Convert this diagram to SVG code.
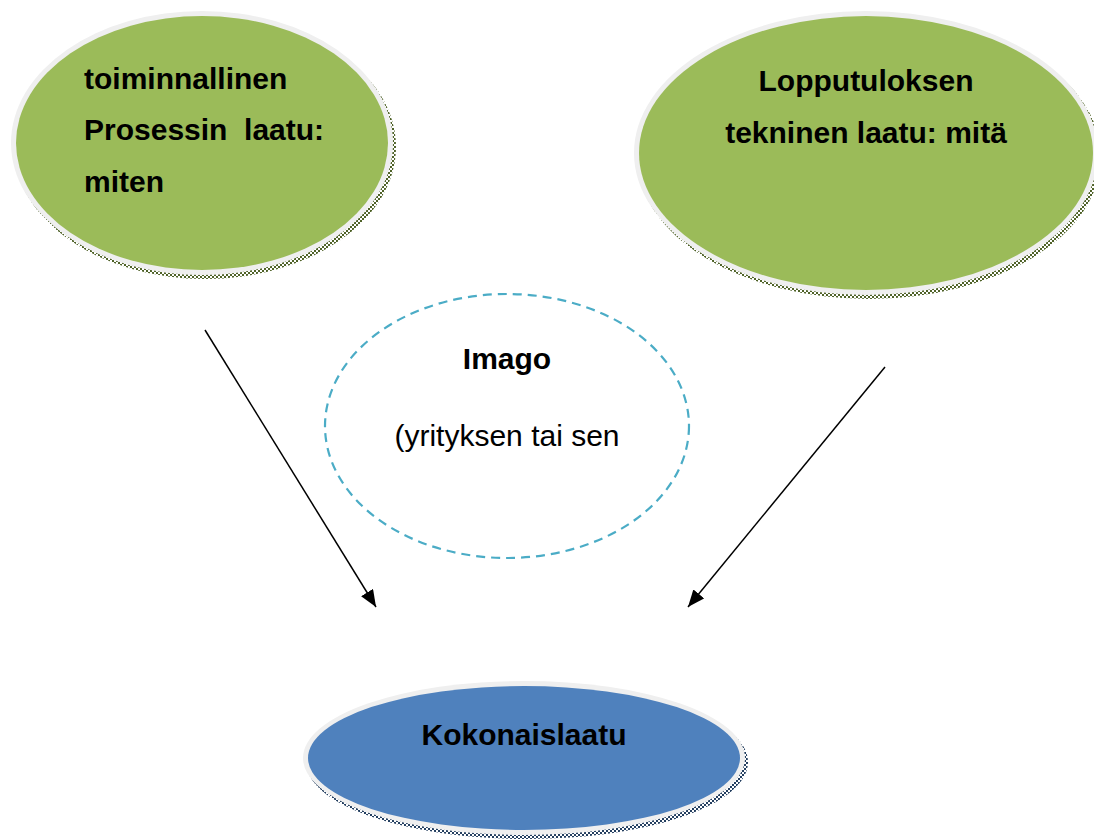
<svg xmlns="http://www.w3.org/2000/svg" width="1094" height="839" viewBox="0 0 1094 839">
<style>
.t{font-family:"Liberation Sans",Arial,sans-serif;font-size:30px;fill:#000}
.b{font-weight:bold}
.rim{fill:#efefef}
.green{fill:#9bbb59}
.blue{fill:#4f81bd}
.conn{stroke:#000;stroke-width:1.5;fill:none}
</style>
<defs>
<pattern id="chkG" patternUnits="userSpaceOnUse" width="4" height="4">
<rect x="0" y="0" width="2" height="2" fill="#4f6228"/>
<rect x="2" y="2" width="2" height="2" fill="#4f6228"/>
</pattern>
<pattern id="chkB" patternUnits="userSpaceOnUse" width="4" height="4">
<rect x="0" y="0" width="2" height="2" fill="#243f60"/>
<rect x="2" y="2" width="2" height="2" fill="#243f60"/>
</pattern>
<marker id="arr" markerUnits="userSpaceOnUse" markerWidth="18" markerHeight="14" refX="17" refY="7" orient="auto">
<path d="M0,0 L17,7 L0,14 Z" fill="#000"/>
</marker>
</defs>
<g id="node-prosessi">
<ellipse cx="205" cy="147" rx="191" ry="132" fill="url(#chkG)"/>
<ellipse class="rim" cx="202" cy="143" rx="191" ry="132"/>
<ellipse class="green" cx="202" cy="143" rx="186" ry="127"/>
<text class="t b" x="84" y="89">toiminnallinen</text>
<text class="t b" x="84" y="140" xml:space="preserve">Prosessin  laatu:</text>
<text class="t b" x="84" y="192">miten</text>
</g>
<g id="node-lopputulos">
<ellipse cx="869" cy="157" rx="232" ry="142" fill="url(#chkG)"/>
<ellipse class="rim" cx="866" cy="153" rx="232" ry="142"/>
<ellipse class="green" cx="866" cy="153" rx="227" ry="137"/>
<text class="t b" x="866" y="91" text-anchor="middle">Lopputuloksen</text>
<text class="t b" x="866" y="143" text-anchor="middle">tekninen laatu: mitä</text>
</g>
<g id="node-imago">
<ellipse cx="507" cy="426" rx="182" ry="132" fill="none" stroke="#4bacc6" stroke-width="2.2" stroke-dasharray="9,6"/>
<text class="t b" x="507" y="369" text-anchor="middle">Imago</text>
<text class="t" x="507" y="446" text-anchor="middle">(yrityksen tai sen</text>
</g>
<g id="node-kokonaislaatu">
<ellipse cx="527" cy="762" rx="221" ry="77" fill="url(#chkB)"/>
<ellipse class="rim" cx="524" cy="758" rx="221" ry="77"/>
<ellipse class="blue" cx="524" cy="758" rx="216" ry="72"/>
<text class="t b" x="524" y="745" text-anchor="middle">Kokonaislaatu</text>
</g>
<g id="connectors">
<line class="conn" x1="205" y1="330" x2="376" y2="607" marker-end="url(#arr)"/>
<line class="conn" x1="885" y1="367" x2="688" y2="607" marker-end="url(#arr)"/>
</g>
</svg>
